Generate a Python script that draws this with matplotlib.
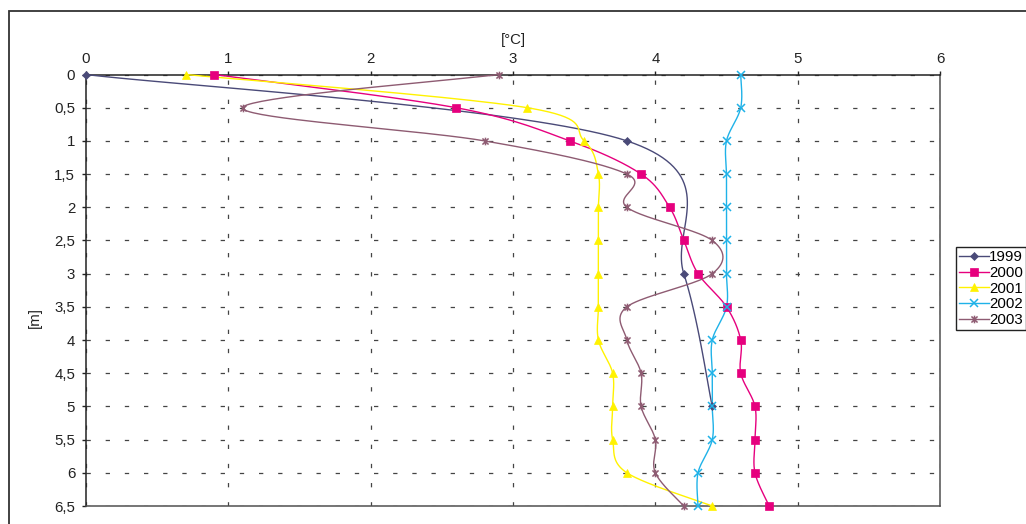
import numpy as np
import matplotlib
matplotlib.use("Agg")
import matplotlib.pyplot as plt
from matplotlib.path import Path
from matplotlib.lines import Line2D
from matplotlib.patches import Rectangle

# ---------------- data ----------------
depths = [0, 0.5, 1, 1.5, 2, 2.5, 3, 3.5, 4, 4.5, 5, 5.5, 6, 6.5]
depth_labels = ["0", "0,5", "1", "1,5", "2", "2,5", "3", "3,5", "4", "4,5",
                "5", "5,5", "6", "6,5"]
temp_ticks = [0, 1, 2, 3, 4, 5, 6]
temp_labels = ["0", "1", "2", "3", "4", "5", "6"]

depths_1999 = [0, 1, 3, 5]
t1999 = [0.0, 3.8, 4.2, 4.4]
t2000 = [0.9, 2.6, 3.4, 3.9, 4.1, 4.2, 4.3, 4.5, 4.6, 4.6, 4.7, 4.7, 4.7, 4.8]
t2001 = [0.7, 3.1, 3.5, 3.6, 3.6, 3.6, 3.6, 3.6, 3.6, 3.7, 3.7, 3.7, 3.8, 4.4]
t2002 = [4.6, 4.6, 4.5, 4.5, 4.5, 4.5, 4.5, 4.5, 4.4, 4.4, 4.4, 4.4, 4.3, 4.3]
t2003 = [2.9, 1.1, 2.8, 3.8, 3.8, 4.4, 4.4, 3.8, 3.8, 3.9, 3.9, 4.0, 4.0, 4.2]
years = ["1999", "2000", "2001", "2002", "2003"]

# ---------------- style ----------------
plt.rcParams["font.family"] = ["Liberation Sans", "DejaVu Sans"]
plt.rcParams["lines.scale_dashes"] = False

W, H = 1026, 524
fig = plt.figure(figsize=(W / 100, H / 100), dpi=100)
fig.patch.set_facecolor("white")

# outer chart border (only left/top visible in the reference)
fig.patches.append(Rectangle((9 / W, -0.05), 1.2, 1 - 10.5 / H + 0.05,
                             transform=fig.transFigure, fill=False,
                             edgecolor="#333333", linewidth=1.3))

ax = fig.add_axes([86 / W, 1 - 506 / H, 854 / W, 431.5 / H])
ax.set_xlim(0, 6)
ax.set_ylim(6.5, 0)

ax.xaxis.tick_top()
ax.set_xticks(temp_ticks)
ax.set_xticklabels(temp_labels)
ax.set_yticks(depths)
ax.set_yticklabels(depth_labels)
ax.tick_params(axis="x", direction="out", length=3, width=1, pad=3,
               labelsize=10.8, colors="#222222")
ax.tick_params(axis="y", direction="out", length=3.2, width=1, pad=4.6,
               labelsize=10.8, colors="#222222")

grid_ls = (0, (3.1, 10.7))
ax.xaxis.grid(True, linestyle=grid_ls, color="#444444", linewidth=0.9)
ax.yaxis.grid(True, linestyle=grid_ls, color="#444444", linewidth=0.9)
ax.set_axisbelow(True)

for s in ["left", "top"]:
    ax.spines[s].set_color("#222222")
    ax.spines[s].set_linewidth(1.1)
for s in ["right", "bottom"]:
    ax.spines[s].set_color("#505050")
    ax.spines[s].set_linewidth(1.1)

ax.text(0.5, 1 + (74.5 - 40) / 431.5, "[°C]", transform=ax.transAxes,
        ha="center", va="center", fontsize=10.8, color="#222222")
ax.text((35 - 86) / 854, 1 - (317 - 74.5) / 431.5, "[m]",
        transform=ax.transAxes, ha="center", va="center", rotation=90,
        fontsize=10.8, color="#222222")

# star marker (x with vertical bar) like Excel's "*"
star = Path([(0, -1), (0, 1), (-0.8, -0.8), (0.8, 0.8), (-0.8, 0.8), (0.8, -0.8)],
            [Path.MOVETO, Path.LINETO, Path.MOVETO, Path.LINETO,
             Path.MOVETO, Path.LINETO])


def smooth_curve(xs, ys, n=40, tension=1.0 / 6.0):
    """Excel-like smoothed line: cubic Bezier through points, computed in display space."""
    pts = ax.transData.transform(np.column_stack([xs, ys]))
    out = []
    m = len(pts)
    t = np.linspace(0, 1, n)[:, None]
    for i in range(m - 1):
        p0 = pts[i - 1] if i > 0 else pts[i]
        p1 = pts[i]
        p2 = pts[i + 1]
        p3 = pts[i + 2] if i + 2 < m else pts[i + 1]
        c1 = p1 + (p2 - p0) * tension
        c2 = p2 - (p3 - p1) * tension
        seg = ((1 - t) ** 3) * p1 + 3 * ((1 - t) ** 2) * t * c1 + \
              3 * (1 - t) * t ** 2 * c2 + t ** 3 * p2
        out.append(seg if i == 0 else seg[1:])
    disp = np.vstack(out)
    data = ax.transData.inverted().transform(disp)
    return data[:, 0], data[:, 1]


series = [
    (t1999, depths_1999, "#4A4A78", "D", 4.2, dict(mfc="#4A4A78", mec="#4A4A78", mew=0.5)),
    (t2000, depths, "#E6007E", "s", 5.6, dict(mfc="#E6007E", mec="#E6007E", mew=0.5)),
    (t2001, depths, "#FFF200", "^", 6.0, dict(mfc="#FFF200", mec="#FFF200", mew=0.5)),
    (t2002, depths, "#1FB2E8", "x", 5.5, dict(mec="#1FB2E8", mew=1.1)),
    (t2003, depths, "#8E5B72", star, 5.5, dict(mec="#8E5B72", mew=1.1)),
]

handles = []
for (xs, ys, col, mk, ms, mkw), yr in zip(series, years):
    sx, sy = smooth_curve(xs, ys)
    ax.plot(sx, sy, color=col, linewidth=1.0, clip_on=False, zorder=3)
    ax.plot(xs, ys, linestyle="none", marker=mk, markersize=ms, clip_on=False,
            zorder=4, **mkw)
    handles.append(Line2D([0], [0], color=col, linewidth=1.0, marker=mk,
                          markersize=ms, **mkw))

leg = fig.legend(handles, years, loc="upper left",
                 bbox_to_anchor=(956 / W, 1 - 247 / H), borderaxespad=0,
                 frameon=True, fancybox=False, edgecolor="#222222",
                 fontsize=10.8, handlelength=2.0, handletextpad=0.0,
                 labelspacing=0.12, borderpad=0.2, framealpha=1)
leg.get_frame().set_linewidth(1.0)

fig.savefig("out.png", dpi=100)
